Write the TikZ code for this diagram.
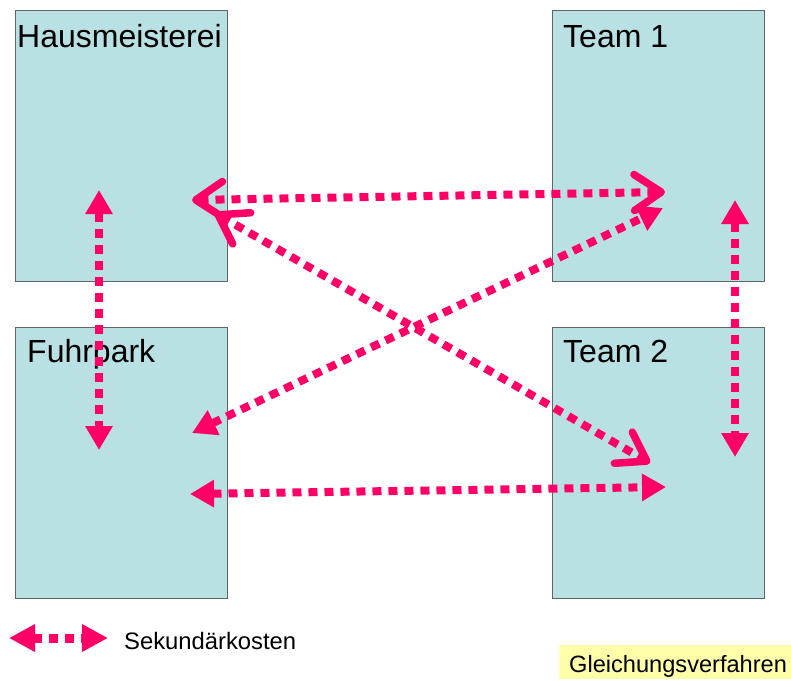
\documentclass[tikz,border=0pt]{standalone}
\usepackage{fontspec}
\setmainfont{Liberation Sans}
\usetikzlibrary{arrows.meta}
\definecolor{boxfill}{RGB}{185,224,226}
\definecolor{boxline}{RGB}{95,100,100}
\definecolor{flowpink}{RGB}{255,0,102}
\definecolor{notefill}{RGB}{255,255,170}
\tikzset{
  box/.style={draw=boxline, fill=boxfill, line width=1.2pt, anchor=north west,
    minimum width=212pt, minimum height=271pt, inner sep=0pt},
  title/.style={anchor=base west, inner sep=0pt, font=\fontsize{32}{38}\selectfont},
  flow/.style={draw=flowpink, line width=8pt, dash pattern=on 9pt off 7pt},
  solidhead/.style={flow, {Triangle[length=24pt,width=26pt]}-{Triangle[length=24pt,width=26pt]}},
  openhead/.style={flow, {Straight Barb[length=27pt,width=36pt,line width=7.5pt,round]}-{Straight Barb[length=27pt,width=36pt,line width=7.5pt,round]}},
}
\begin{document}
\begin{tikzpicture}[x=1pt,y=-1pt]
\useasboundingbox (0,0) rectangle (791,680);
\fill[white] (0,0) rectangle (791,680);

% cost centres
\node[box] (haus) at (15,10) {};
\node[box] (team1) at (552,10) {};
\node[box] (fuhr) at (15,327) {};
\node[box] (team2) at (552,327) {};
\node[title] (haustxt) at (17,47) {Hausmeisterei};
\node[title] (team1txt) at (563,47) {Team 1};
\node[title] (fuhrtxt) at (27,362) {Fuhrpark};
\node[title] (team2txt) at (563,362) {Team 2};

% arrow end points
\coordinate (hA) at (192,200);
\coordinate (hB) at (215,213);
\coordinate (hC) at (99,190);
\coordinate (fC) at (99,450);
\coordinate (fA) at (192,433);
\coordinate (fB) at (190,494);
\coordinate (tA) at (665,192);
\coordinate (tB) at (663,208);
\coordinate (tC) at (735,200);
\coordinate (uC) at (735,457);
\coordinate (uA) at (650,463);
\coordinate (uB) at (666,487);

% secondary cost flows
\draw[solidhead] (hC) -- (fC);
\draw[solidhead] (tC) -- (uC);
\draw[solidhead] (fA) -- (tB);
\draw[solidhead] (fB) -- (uB);
\draw[openhead] (hA) -- (tA);
\draw[openhead] (hB) -- (uA);

% legend
\coordinate (lgA) at (9,638);
\coordinate (lgB) at (108,638);
\draw[flow, line width=9pt, {Triangle[length=26pt,width=26pt]}-{Triangle[length=26pt,width=26pt]}] (lgA) -- (lgB);
\node[anchor=base west, inner sep=0pt, font=\fontsize{23.8}{28}\selectfont] (legtxt) at (124,649) {Sekundärkosten};

% method tag
\fill[notefill] (559,645) rectangle (791,679);
\node[anchor=base west, inner sep=0pt, font=\fontsize{23.6}{28}\selectfont] (method) at (569,672) {Gleichungsverfahren};
\end{tikzpicture}
\end{document}
